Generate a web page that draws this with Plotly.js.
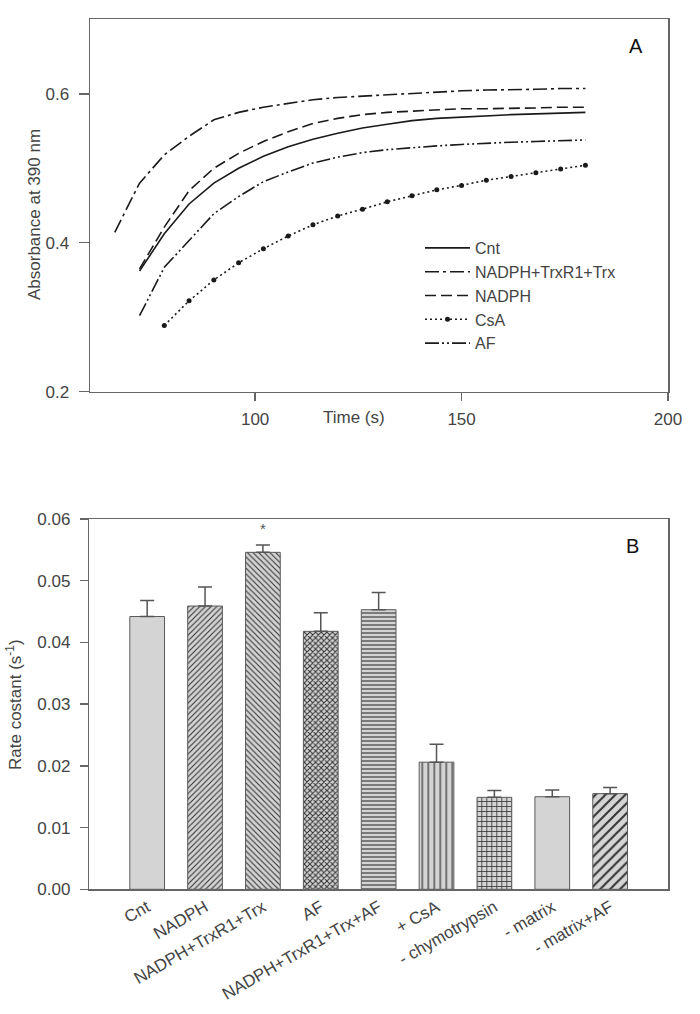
<!DOCTYPE html>
<html>
<head>
<meta charset="utf-8">
<script src="https://cdn.plot.ly/plotly-3.0.1.min.js"></script>
<style>html,body{margin:0;padding:0;background:#fff;}#chart{width:700px;height:1014px;}</style>
</head>
<body>
<div id="chart"></div>
<script>
// ---- Panel A data (time in s, absorbance at 390 nm) ----
var timeMain = [72,78,84,90,96,102,108,114,120,126,132,138,144,150,156,162,168,174,180];
var timeTrx  = [66,72,78,84,90,96,102,108,114,120,126,132,138,144,150,156,162,168,174,180];
var timeCsA  = [78,84,90,96,102,108,114,120,126,132,138,144,150,156,162,168,174,180];
var absCnt   = [0.362,0.412,0.452,0.480,0.500,0.516,0.529,0.539,0.547,0.554,0.559,0.564,0.567,0.569,0.571,0.572,0.573,0.574,0.575];
var absTrx   = [0.414,0.480,0.518,0.543,0.565,0.575,0.582,0.587,0.592,0.595,0.597,0.599,0.601,0.603,0.604,0.605,0.606,0.606,0.607,0.607];
var absNADPH = [0.365,0.421,0.470,0.500,0.520,0.536,0.549,0.560,0.567,0.572,0.575,0.577,0.578,0.580,0.580,0.581,0.581,0.582,0.582];
var absCsA   = [0.289,0.322,0.350,0.373,0.392,0.409,0.424,0.436,0.445,0.455,0.463,0.471,0.477,0.484,0.489,0.494,0.499,0.504];
var absAF    = [0.302,0.367,0.403,0.439,0.462,0.482,0.495,0.507,0.515,0.521,0.525,0.528,0.530,0.532,0.534,0.535,0.536,0.537,0.538];
var seriesNames = ["Cnt","NADPH+TrxR1+Trx","NADPH","CsA","AF"];
var xTicksA = [100,150,200];
var yTicksA = [0.2,0.4,0.6];

// ---- Panel B data (rate constants, s^-1) ----
var categories = ["Cnt","NADPH","NADPH+TrxR1+Trx","AF","NADPH+TrxR1+Trx+AF","+ CsA","- chymotrypsin","- matrix","- matrix+AF"];
var rates  = [0.0442,0.0459,0.0546,0.0418,0.0453,0.0206,0.0149,0.0150,0.0155];
var errors = [0.0026,0.0031,0.0012,0.0030,0.0028,0.0029,0.0011,0.0011,0.0010];
var noErr  = [0,0,0,0,0,0,0,0,0];

var lineCol = '#1a1a1a';
var traces = [
  {x: timeMain, y: absCnt, name: seriesNames[0], mode: 'lines', line: {color: lineCol, width: 1.6, dash: 'solid'}, xaxis: 'x', yaxis: 'y'},
  {x: timeTrx, y: absTrx, name: seriesNames[1], mode: 'lines', line: {color: lineCol, width: 1.6, dash: '14px,4px,3px,4px'}, xaxis: 'x', yaxis: 'y'},
  {x: timeMain, y: absNADPH, name: seriesNames[2], mode: 'lines', line: {color: lineCol, width: 1.6, dash: '11px,5px'}, xaxis: 'x', yaxis: 'y'},
  {x: timeCsA, y: absCsA, name: seriesNames[3], mode: 'lines+markers', line: {color: lineCol, width: 1.6, dash: '2px,3px'}, marker: {color: lineCol, size: 5}, xaxis: 'x', yaxis: 'y'},
  {x: timeMain, y: absAF, name: seriesNames[4], mode: 'lines', line: {color: lineCol, width: 1.6, dash: '14px,3px,2px,3px,2px,3px'}, xaxis: 'x', yaxis: 'y'},
  {
    type: 'bar', x: categories, y: rates, xaxis: 'x2', yaxis: 'y2', showlegend: false, width: 0.6,
    marker: {
      color: '#d4d4d4',
      line: {color: '#5a5a5a', width: 1},
      pattern: {
        shape: ['', '/', '\\', 'x', '-', '|', '+', '', '/'],
        size:  [8, 4, 4, 4, 4, 6, 5, 8, 7],
        solidity: [0.3, 0.28, 0.28, 0.45, 0.28, 0.2, 0.3, 0.3, 0.28],
        fgcolor: '#333333',
        bgcolor: '#d4d4d4',
        fillmode: 'replace'
      }
    },
    error_y: {type: 'data', symmetric: false, array: errors, arrayminus: noErr, color: '#555', thickness: 1.5, width: 7}
  }
];

var axisCommon = {
  showline: true, mirror: true, linecolor: '#666', linewidth: 1.5,
  showgrid: false, zeroline: false, ticks: 'outside', tickcolor: '#666', tickwidth: 1.5,
  tickfont: {size: 17, color: '#444'}
};

var layout = {
  width: 700, height: 1014,
  margin: {l: 0, r: 0, t: 0, b: 0},
  paper_bgcolor: '#fff', plot_bgcolor: '#fff',
  font: {family: 'Liberation Sans, Arial, sans-serif', color: '#444'},
  showlegend: true,
  legend: {
    x: 420/700, xanchor: 'left', y: 1 - 231/1014, yanchor: 'top',
    bgcolor: 'rgba(0,0,0,0)', borderwidth: 0, font: {size: 16, color: '#444'},
    itemwidth: 45, tracegroupgap: 0
  },
  xaxis: Object.assign({}, axisCommon, {domain: [90/700, 668/700], range: [60, 200], tickvals: xTicksA, ticklen: 8, anchor: 'y', ticklabelstandoff: 3}),
  yaxis: Object.assign({}, axisCommon, {domain: [1 - 391.7/1014, 1 - 19.3/1014], range: [0.2, 0.7], tickvals: yTicksA, tickformat: '.1f', ticklen: 10, anchor: 'x', ticklabelstandoff: 6}),
  xaxis2: Object.assign({}, axisCommon, {domain: [89.3/700, 668/700], type: 'category', range: [-1, 9], ticks: '', tickangle: -30, anchor: 'y2'}),
  yaxis2: Object.assign({}, axisCommon, {domain: [1 - 889.3/1014, 1 - 519/1014], range: [0, 0.06], dtick: 0.01, tickformat: '.2f', ticklen: 8, anchor: 'x2', ticklabelstandoff: 6}),
  annotations: [
    {text: 'A', xref: 'paper', yref: 'paper', x: 636/700, y: 1 - 46/1014, xanchor: 'center', yanchor: 'middle', showarrow: false, font: {size: 20, color: '#111'}},
    {text: 'B', xref: 'paper', yref: 'paper', x: 632/700, y: 1 - 546/1014, xanchor: 'center', yanchor: 'middle', showarrow: false, font: {size: 20, color: '#111'}},
    {text: 'Time (s)', xref: 'paper', yref: 'paper', x: 354/700, y: 1 - 417/1014, xanchor: 'center', yanchor: 'middle', showarrow: false, font: {size: 17, color: '#444'}},
    {text: 'Absorbance at 390 nm', xref: 'paper', yref: 'paper', x: 35/700, y: 1 - 215/1014, xanchor: 'center', yanchor: 'middle', textangle: -90, showarrow: false, font: {size: 17, color: '#444'}},
    {text: 'Rate costant (s<sup>-1</sup>)', xref: 'paper', yref: 'paper', x: 14/700, y: 1 - 705/1014, xanchor: 'center', yanchor: 'middle', textangle: -90, showarrow: false, font: {size: 17, color: '#444'}},
    {text: '*', xref: 'x2', yref: 'y2', x: categories[2], y: 0.0585, xanchor: 'center', yanchor: 'middle', showarrow: false, font: {size: 15, color: '#555'}}
  ]
};

Plotly.newPlot('chart', traces, layout, {staticPlot: true, displayModeBar: false});
</script>
</body>
</html>
